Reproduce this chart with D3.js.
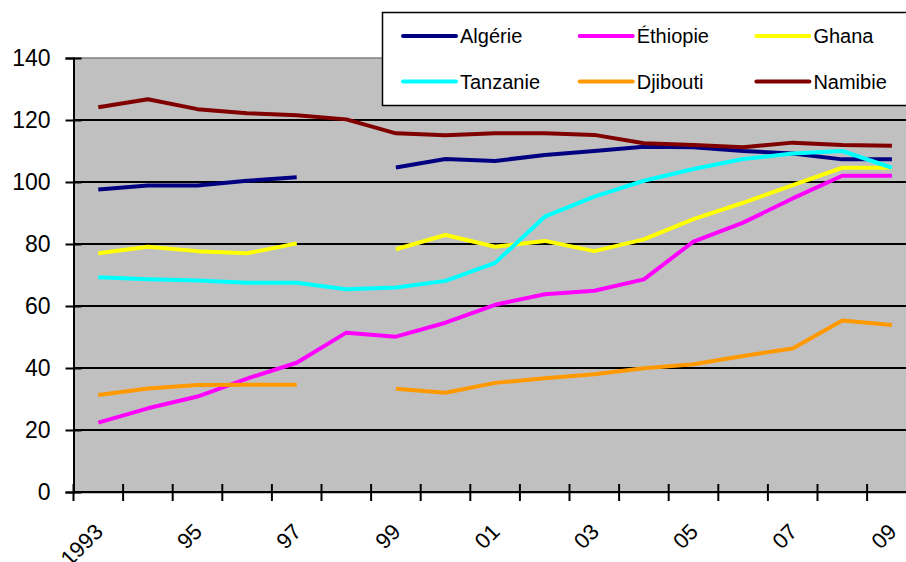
<!DOCTYPE html>
<html>
<head>
<meta charset="utf-8">
<script src="https://cdn.jsdelivr.net/npm/d3@7/dist/d3.min.js"></script>
<style>
  html, body { margin: 0; padding: 0; background: #fff; }
  svg { display: block; font-family: "Liberation Sans", Arial, sans-serif; }
</style>
</head>
<body>
<svg id="chart" width="906" height="562"></svg>
<script>
// Years on the category axis
const years = d3.range(1993, 2010);
const yearLabels = ["1993", "", "95", "", "97", "", "99", "", "01", "", "03", "", "05", "", "07", "", "09"];
const yTicks = [0, 20, 40, 60, 80, 100, 120, 140];

// Series (null = no data for that year)
const algerie   = [97.6, 98.9, 98.9, 100.4, 101.5, null, 104.7, 107.4, 106.8, 108.7, 110.0, 111.4, 111.2, 110.0, 109.2, 107.3, 107.3];
const ethiopie  = [22.4, 27.0, 30.8, 36.6, 41.7, 51.4, 50.1, 54.6, 60.4, 63.8, 64.9, 68.6, 80.8, 86.9, 94.7, 102.0, 102.0];
const ghana     = [77.0, 79.1, 77.7, 77.0, 80.2, null, 78.3, 82.9, 79.1, 81.0, 77.7, 81.5, 88.0, 93.3, 99.0, 104.6, 104.6];
const tanzanie  = [69.3, 68.6, 68.2, 67.5, 67.5, 65.4, 66.0, 68.1, 73.9, 88.8, 95.3, 100.4, 104.2, 107.4, 109.2, 110.0, 104.6];
const djibouti  = [31.3, 33.4, 34.5, 34.6, 34.6, null, 33.3, 32.0, 35.2, 36.7, 38.0, 39.9, 41.2, 43.9, 46.3, 55.3, 53.9];
const namibie   = [124.1, 126.7, 123.5, 122.2, 121.5, 120.2, 115.7, 115.1, 115.7, 115.7, 115.2, 112.5, 111.9, 111.2, 112.7, 111.9, 111.7];

const seriesNames  = ["Algérie", "Éthiopie", "Ghana", "Tanzanie", "Djibouti", "Namibie"];
const seriesColors = ["#000080", "#FF00FF", "#FFFF00", "#00FFFF", "#FF9900", "#800000"];
const seriesData   = [algerie, ethiopie, ghana, tanzanie, djibouti, namibie];

const svg = d3.select("#chart");

const plotLeft = 73.5, bandW = 49.6;
const x = d3.scaleBand().domain(years).range([plotLeft, plotLeft + bandW * years.length]).padding(0);
const y = d3.scaleLinear().domain([0, 140]).range([492, 58]);

const plotRight = x.range()[1];

// Plot background
svg.append("rect")
  .attr("x", plotLeft).attr("y", y(140))
  .attr("width", plotRight - plotLeft).attr("height", y(0) - y(140) + 2)
  .attr("fill", "#C0C0C0");
svg.append("line")
  .attr("x1", plotLeft).attr("x2", plotRight)
  .attr("y1", y(140)).attr("y2", y(140))
  .attr("stroke", "#808080").attr("stroke-width", 1.5);

// Horizontal gridlines
svg.append("g").selectAll("line")
  .data(yTicks.filter(v => v > 0 && v < 140))
  .join("line")
  .attr("x1", plotLeft).attr("x2", plotRight)
  .attr("y1", d => y(d)).attr("y2", d => y(d))
  .attr("stroke", "#000").attr("stroke-width", 1.8);

// Y axis
const yAxis = svg.append("g")
  .attr("transform", `translate(${plotLeft},0)`)
  .call(d3.axisLeft(y).tickValues(yTicks).tickSize(8).tickPadding(15).tickFormat(d3.format("d")));
yAxis.select(".domain").attr("stroke", "#000").attr("stroke-width", 2);
yAxis.selectAll(".tick line").attr("stroke", "#000").attr("stroke-width", 2).attr("x2", -8).attr("x1", 8);
yAxis.selectAll(".tick text").attr("font-size", 23).attr("fill", "#000")
  .attr("font-family", "'Liberation Sans', Arial, sans-serif");

// X axis line, crossing ticks at category boundaries
const xg = svg.append("g");
xg.append("line")
  .attr("x1", plotLeft).attr("x2", plotRight)
  .attr("y1", y(0)).attr("y2", y(0))
  .attr("stroke", "#000").attr("stroke-width", 2);
xg.selectAll("line.tick")
  .data(years)
  .join("line")
  .attr("class", "tick")
  .attr("x1", d => x(d)).attr("x2", d => x(d))
  .attr("y1", y(0) - 8).attr("y2", y(0) + 9)
  .attr("stroke", "#000").attr("stroke-width", 2);
xg.selectAll("text")
  .data(years.map((d, i) => ({ year: d, label: yearLabels[i] })).filter(d => d.label))
  .join("text")
  .attr("transform", d => `translate(${x(d.year) + x.bandwidth() / 2 + 6},${533}) rotate(-45)`)
  .attr("text-anchor", "end")
  .attr("font-size", 22)
  .attr("fill", "#000")
  .text(d => d.label);

// Lines
const line = d3.line()
  .defined(d => d.v != null)
  .x(d => x(d.year) + x.bandwidth() / 2)
  .y(d => y(d.v));

seriesData.forEach((vals, i) => {
  svg.append("path")
    .datum(years.map((yr, j) => ({ year: yr, v: vals[j] })))
    .attr("fill", "none")
    .attr("stroke", seriesColors[i])
    .attr("stroke-width", 4)
    .attr("stroke-linejoin", "round")
    .attr("d", line);
});

// Legend
const legend = svg.append("g");
legend.append("rect")
  .attr("x", 382.5).attr("y", 12.5)
  .attr("width", 540).attr("height", 93)
  .attr("fill", "#fff").attr("stroke", "#000").attr("stroke-width", 1.5);
seriesNames.forEach((name, i) => {
  const col = i % 3, row = Math.floor(i / 3);
  const lx = 403 + col * 176.7, ly = 36 + row * 45.5;
  legend.append("line")
    .attr("x1", lx).attr("x2", lx + 53)
    .attr("y1", ly).attr("y2", ly)
    .attr("stroke", seriesColors[i]).attr("stroke-width", 4)
    .attr("stroke-linecap", "round");
  legend.append("text")
    .attr("x", lx + 57).attr("y", ly + 7)
    .attr("font-size", 20).attr("fill", "#000")
    .text(name);
});
</script>
</body>
</html>
